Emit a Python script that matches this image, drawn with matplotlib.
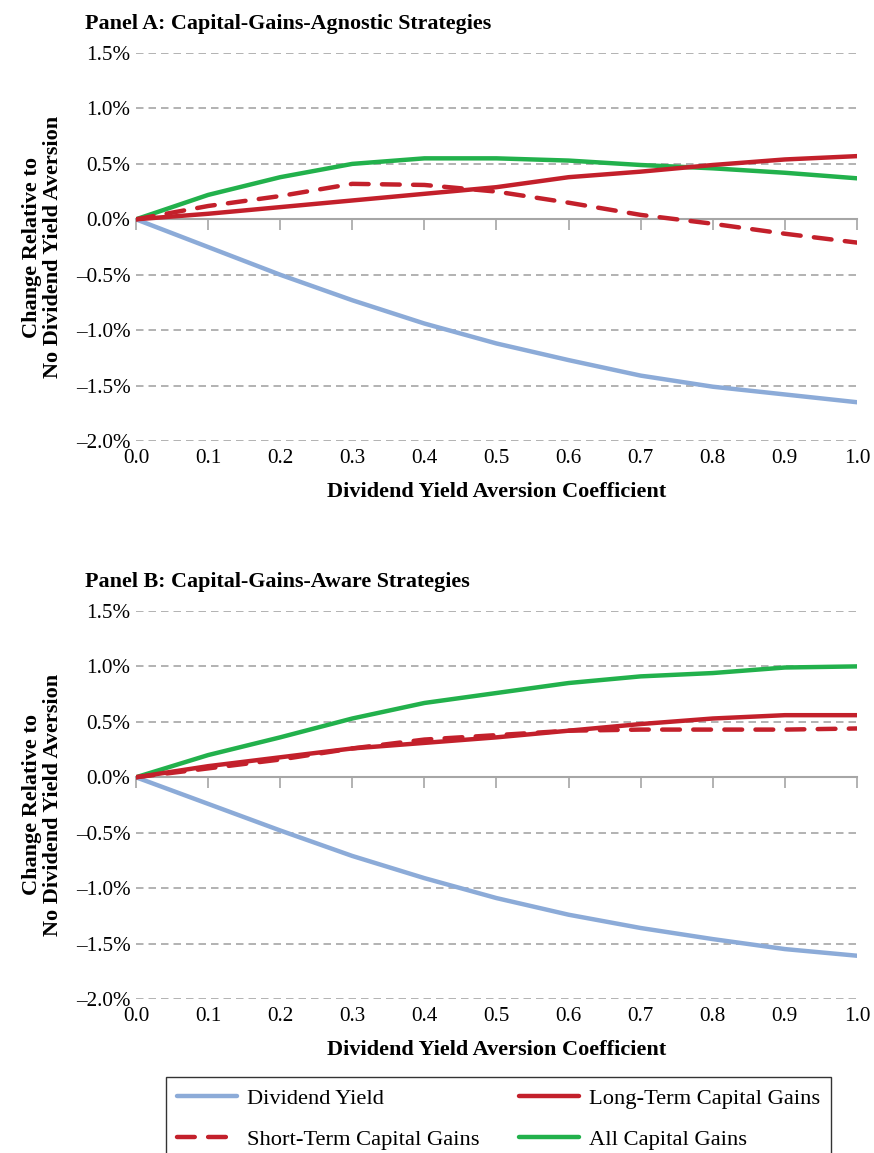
import matplotlib
matplotlib.use("Agg")
import matplotlib.pyplot as plt
from matplotlib.ticker import FuncFormatter

plt.rcParams['font.family'] = ['Liberation Serif', 'DejaVu Serif']

aversion = [0.0, 0.1, 0.2, 0.3, 0.4, 0.5, 0.6, 0.7, 0.8, 0.9, 1.0]

# Panel A: capital-gains-agnostic strategies (% change)
a_div_yield = [0.0, -0.25, -0.50, -0.73, -0.94, -1.12, -1.27, -1.41, -1.51, -1.58, -1.65]
a_lt_gains = [0.0, 0.05, 0.11, 0.17, 0.23, 0.29, 0.38, 0.43, 0.49, 0.54, 0.57]
a_st_gains = [0.0, 0.12, 0.21, 0.32, 0.31, 0.25, 0.15, 0.04, -0.04, -0.13, -0.21]
a_all_gains = [0.0, 0.22, 0.38, 0.50, 0.55, 0.55, 0.53, 0.49, 0.46, 0.42, 0.37]

# Panel B: capital-gains-aware strategies (% change)
b_div_yield = [0.0, -0.24, -0.48, -0.71, -0.91, -1.09, -1.24, -1.36, -1.46, -1.55, -1.61]
b_lt_gains = [0.0, 0.10, 0.18, 0.26, 0.31, 0.36, 0.42, 0.48, 0.53, 0.56, 0.56]
b_st_gains = [0.0, 0.08, 0.16, 0.26, 0.34, 0.38, 0.42, 0.43, 0.43, 0.43, 0.44]
b_all_gains = [0.0, 0.20, 0.36, 0.53, 0.67, 0.76, 0.85, 0.91, 0.94, 0.99, 1.00]

yticks = [-2.0, -1.5, -1.0, -0.5, 0.0, 0.5, 1.0, 1.5]
xticks = [0.0, 0.1, 0.2, 0.3, 0.4, 0.5, 0.6, 0.7, 0.8, 0.9, 1.0]

BLUE = '#8cabd8'
RED = '#c3202b'
GREEN = '#22b14c'
GRID = '#a6a6a6'

fig = plt.figure(figsize=(8.74, 11.53), dpi=100)


def pct(v, pos):
    if v < 0:
        return '\u2013%.1f%%' % -v
    return '%.1f%%' % v


def draw_panel(rect, title, div, lt, st, allg):
    ax = fig.add_axes(rect)
    ax.set_xlim(0, 1.0)
    ax.set_ylim(-2.0, 1.5)
    for y in yticks:
        if y != 0:
            ax.axhline(y, color=GRID, lw=1.2, ls=(0, (4.5, 3)), zorder=1)
    kw = dict(lw=3.2, solid_capstyle='round', solid_joinstyle='round', zorder=3)
    ax.plot(aversion, div, color=BLUE, label='Dividend Yield', **kw)
    ax.plot(aversion, lt, color=RED, label='Long-Term Capital Gains', **kw)
    ax.plot(aversion, st, color=RED, lw=3.2, ls=(0, (4.0, 3.0)), dash_capstyle='round',
            label='Short-Term Capital Gains', zorder=3)
    ax.plot(aversion, allg, color=GREEN, label='All Capital Gains',
            lw=3.2, solid_capstyle='round', zorder=2.9)

    for s in ax.spines.values():
        s.set_visible(False)
    ax.set_yticks(yticks)
    ax.yaxis.set_major_formatter(FuncFormatter(pct))
    ax.set_xticks(xticks)
    ax.set_xticklabels(['%.1f' % v for v in xticks])
    ax.tick_params(axis='both', length=0, labelsize=15.2)
    ax.tick_params(axis='x', pad=6)
    ax.tick_params(axis='y', pad=4)

    # zero line carries the tick marks (secondary axis above the middle uses its top spine)
    zero = ax.secondary_xaxis(2.0 / 3.5)
    for s in zero.spines.values():
        s.set_color(GRID)
        s.set_linewidth(1.5)
    zero.set_xticks(xticks)
    zero.xaxis.set_ticklabels([])
    zero.tick_params(length=8, width=1.2, color=GRID, direction='in',
                     labeltop=False, labelbottom=False)

    ax.set_xlabel('Dividend Yield Aversion Coefficient', fontsize=16, fontweight='bold', labelpad=10)
    ax.set_ylabel('Change Relative to\nNo Dividend Yield Aversion', fontsize=16,
                  fontweight='bold', labelpad=9, linespacing=1.1)
    ax.text(-0.0707, 1.075, title, transform=ax.transAxes, fontsize=15.8,
            fontweight='bold', ha='left', va='center')
    return ax


ax_a = draw_panel([0.1556, 0.6175, 0.8249, 0.3365], 'Panel A: Capital-Gains-Agnostic Strategies',
                  a_div_yield, a_lt_gains, a_st_gains, a_all_gains)
ax_b = draw_panel([0.1556, 0.1336, 0.8249, 0.3365], 'Panel B: Capital-Gains-Aware Strategies',
                  b_div_yield, b_lt_gains, b_st_gains, b_all_gains)

handles, labels = ax_a.get_legend_handles_labels()
order = [0, 2, 1, 3]
leg = fig.legend([handles[i] for i in order], [labels[i] for i in order],
                 loc='upper left', bbox_to_anchor=(166 / 874, 1 - 1077 / 1153),
                 ncol=2, fontsize=16.2, frameon=True, fancybox=False,
                 handlelength=2.65, handletextpad=0.45, borderpad=0.5, labelspacing=0.9,
                 columnspacing=1.75, borderaxespad=0)
leg.get_frame().set_edgecolor('black')
leg.get_frame().set_linewidth(1.0)

fig.savefig('out.png', dpi=100)
